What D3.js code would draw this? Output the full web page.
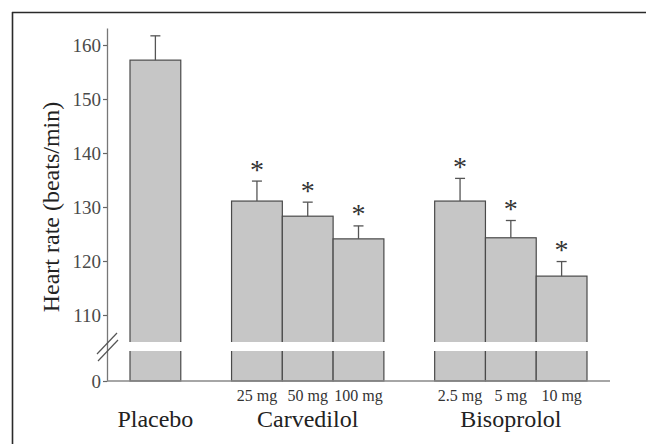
<!DOCTYPE html>
<html>
<head>
<meta charset="utf-8">
<script src="https://cdn.jsdelivr.net/npm/d3@7"></script>
<style>
  html, body { margin: 0; padding: 0; background: #fff; overflow: hidden; width: 646px; height: 444px; }
  svg { display: block; overflow: hidden; }
</style>
</head>
<body>
<svg id="chart" width="646" height="444"></svg>
<script>
// ---- data ----
const groups = ["Placebo", "Carvedilol", "Bisoprolol"];
const barGroup = ["Placebo", "Carvedilol", "Carvedilol", "Carvedilol", "Bisoprolol", "Bisoprolol", "Bisoprolol"];
const doses = ["", "25 mg", "50 mg", "100 mg", "2.5 mg", "5 mg", "10 mg"];
const means = [157.2, 131.1, 128.3, 124.1, 131.1, 124.3, 117.2];
const errors = [4.5, 3.7, 2.6, 2.4, 4.2, 3.2, 2.7];
const significant = [false, true, true, true, true, true, true];
const slots = [0, 2, 3, 4, 6, 7, 8];          // position slots (gaps between groups)
const yTicks = [0, 110, 120, 130, 140, 150, 160];
const yTitle = "Heart rate (beats/min)";

// ---- layout ----
const FONT = '"Liberation Serif", "Times New Roman", Times, serif';
const svg = d3.select("#chart");
svg.append("rect").attr("width", 646).attr("height", 444).attr("fill", "#fff");
const x = d3.scaleBand().domain(d3.range(9)).range([130, 587]).paddingInner(0).paddingOuter(0);
// broken axis: 0 at bottom, then jump to ~105 at the break
const y = d3.scaleLinear().domain([0, 105, 163.15]).range([381, 342, 28]);
const breakTop = 342, breakBottom = 351;
const axisX = 107, axisRight = 610;

// frame (only top and left edges fall inside the picture)
svg.append("line").attr("x1", 12.5).attr("x2", 12.5).attr("y1", 12).attr("y2", 444)
  .attr("stroke", "#2a2a2a").attr("stroke-width", 1.6);
svg.append("line").attr("x1", 12).attr("x2", 646).attr("y1", 12.5).attr("y2", 12.5)
  .attr("stroke", "#2a2a2a").attr("stroke-width", 1.6);

const bars = means.map((m, i) => ({ m, e: errors[i], s: significant[i], slot: slots[i], dose: doses[i], g: barGroup[i] }));

// bars
svg.append("g").selectAll("rect").data(bars).join("rect")
  .attr("x", d => x(d.slot))
  .attr("y", d => y(d.m))
  .attr("width", x.bandwidth())
  .attr("height", d => y(0) - y(d.m))
  .attr("fill", "#c6c6c6")
  .attr("stroke", "#4a4a4a")
  .attr("stroke-width", 1.2);

// break band across bars
svg.append("g").selectAll("rect").data(bars).join("rect")
  .attr("x", d => x(d.slot) - 1.5)
  .attr("y", breakTop)
  .attr("width", x.bandwidth() + 3)
  .attr("height", breakBottom - breakTop)
  .attr("fill", "#fff");

// error bars
const eb = svg.append("g").attr("stroke", "#555").attr("stroke-width", 1.3);
eb.selectAll("line.v").data(bars).join("line").attr("class", "v")
  .attr("x1", d => x(d.slot) + x.bandwidth() / 2)
  .attr("x2", d => x(d.slot) + x.bandwidth() / 2)
  .attr("y1", d => y(d.m))
  .attr("y2", d => y(d.m + d.e));
eb.selectAll("line.c").data(bars).join("line").attr("class", "c")
  .attr("x1", d => x(d.slot) + x.bandwidth() / 2 - 5)
  .attr("x2", d => x(d.slot) + x.bandwidth() / 2 + 5)
  .attr("y1", d => y(d.m + d.e))
  .attr("y2", d => y(d.m + d.e));

// asterisks
svg.append("g").selectAll("text").data(bars.filter(d => d.s)).join("text")
  .attr("x", d => x(d.slot) + x.bandwidth() / 2)
  .attr("y", d => y(d.m + d.e) - 2.5)
  .attr("text-anchor", "middle")
  .attr("font-family", FONT)
  .attr("font-size", 28)
  .attr("fill", "#333")
  .text("*");

// y axis
const yAxis = d3.axisLeft(y).tickValues(yTicks).tickSize(4).tickSizeOuter(0).tickPadding(2)
  .tickFormat(d3.format("d"));
const ya = svg.append("g").attr("transform", `translate(${axisX},0)`).call(yAxis)
  .attr("font-family", FONT);
ya.select(".domain").attr("stroke", "#777").attr("stroke-width", 1.3);
ya.selectAll(".tick line").attr("stroke", "#666").attr("stroke-width", 1.2);
ya.selectAll(".tick text").attr("font-size", 19).attr("fill", "#4a4a4a");

// x baseline
svg.append("line").attr("x1", axisX).attr("x2", axisRight).attr("y1", y(0)).attr("y2", y(0))
  .attr("stroke", "#888").attr("stroke-width", 1.4);

// axis break slashes
const sl = svg.append("g").attr("stroke", "#555").attr("stroke-width", 1.2);
sl.append("line").attr("x1", 97).attr("y1", 354).attr("x2", 117).attr("y2", 333);
sl.append("line").attr("x1", 98).attr("y1", 361).attr("x2", 118).attr("y2", 340);

// y title
svg.append("text")
  .attr("transform", `translate(59,207) rotate(-90)`)
  .attr("text-anchor", "middle")
  .attr("font-family", FONT)
  .attr("font-size", 24)
  .attr("fill", "#222")
  .text(yTitle);

// dose labels
svg.append("g").selectAll("text").data(bars.filter(d => d.dose)).join("text")
  .attr("x", d => x(d.slot) + x.bandwidth() / 2)
  .attr("y", 401)
  .attr("text-anchor", "middle")
  .attr("font-family", FONT)
  .attr("font-size", 16)
  .attr("fill", "#333")
  .text(d => d.dose);

// group labels
svg.append("g").selectAll("text").data(groups).join("text")
  .attr("x", g => {
    const s = bars.filter(d => d.g === g).map(d => d.slot);
    return (x(d3.min(s)) + x(d3.max(s)) + x.bandwidth()) / 2;
  })
  .attr("y", 427)
  .attr("text-anchor", "middle")
  .attr("font-family", FONT)
  .attr("font-size", 24)
  .attr("fill", "#222")
  .text(g => g);
</script>
</body>
</html>
